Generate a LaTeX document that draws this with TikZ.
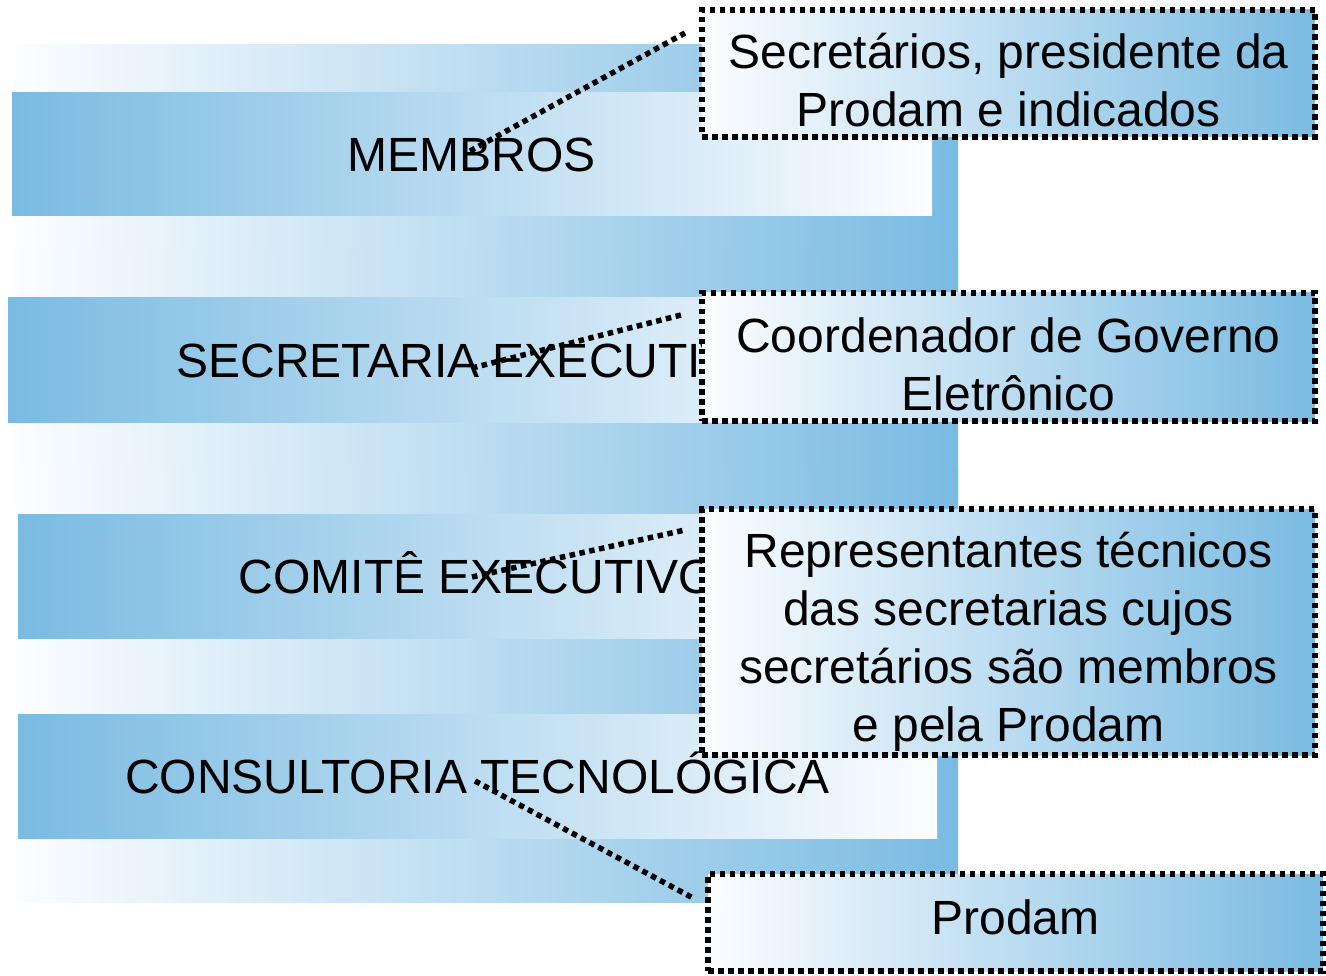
\documentclass[tikz,border=0pt]{standalone}
\usepackage{fontspec}
\setmainfont{Liberation Sans}
\definecolor{barblue}{RGB}{122,187,226}
\definecolor{barwhite}{RGB}{252,253,255}
\begin{document}
\begin{tikzpicture}[x=1pt,y=-1pt,
  box/.style={draw=none, inner sep=0pt, outer sep=0pt, anchor=north west},
  backbar/.style={box, left color=barwhite, right color=barblue},
  frontbar/.style={box, left color=barblue, right color=barwhite,
    font=\fontsize{48}{57}\selectfont, text height=34.4pt, text depth=0pt},
  dotline/.style={draw=black, line width=5.5pt, dash pattern=on 5.5pt off 4.5pt},
  callout/.style={box, left color=barwhite, right color=barblue, dotline},
  calltext/.style={inner sep=0pt, align=center, font=\fontsize{48}{58}\selectfont},
  conn/.style={dotline},
]
\fill[white] (0,0) rectangle (1326,976);
\useasboundingbox (0,0) rectangle (1326,976);

% back bars
\node[backbar, minimum width=943pt, minimum height=253pt] (b1) at (15,45) {};
\node[backbar, minimum width=946pt, minimum height=253pt] (b2) at (12,250) {};
\node[backbar, minimum width=943pt, minimum height=248pt] (b3) at (15,466) {};
\node[backbar, minimum width=943pt, minimum height=236pt] (b4) at (15,666) {};

% front bars
\node[frontbar, minimum width=920pt, minimum height=123pt] (f1) at (12,93) {MEMBROS};
\node[frontbar, minimum width=922pt, minimum height=124pt] (f2) at (8,298) {SECRETARIA EXECUTIVA};
\node[frontbar, minimum width=919pt, minimum height=124pt] (f3) at (18,514) {COMITÊ EXECUTIVO};
\node[frontbar, minimum width=919pt, minimum height=124pt] (f4) at (18,714) {CONSULTORIA TECNOLÓGICA};

% connector end points
\coordinate (p1) at (470,151);
\coordinate (q1) at (685,33);
\coordinate (p2) at (472,368);
\coordinate (q2) at (685,314);
\coordinate (p3) at (472,577);
\coordinate (q3) at (685,530);
\coordinate (p4) at (475,781);
\coordinate (q4) at (693,898);

\draw[conn] (p1) -- (q1);
\draw[conn] (p2) -- (q2);
\draw[conn] (p3) -- (q3);
\draw[conn] (p4) -- (q4);

% callouts
\node[callout, minimum width=613pt, minimum height=127pt] (k1) at (702,10) {};
\node[callout, minimum width=613pt, minimum height=128pt] (k2) at (702,293) {};
\node[callout, minimum width=613pt, minimum height=246pt] (k3) at (702,509) {};
\node[callout, minimum width=615pt, minimum height=97pt] (k4) at (708,874) {};

\node[calltext] (k1t) at ([yshift=-7pt]k1.center) {Secretários, presidente da\\Prodam e indicados};
\node[calltext] (k2t) at ([yshift=-7pt]k2.center) {Coordenador de Governo\\Eletrônico};
\node[calltext] (k3t) at ([yshift=-10pt]k3.center) {Representantes técnicos\\das secretarias cujos\\secretários são membros\\e pela Prodam};
\node[calltext] (k4t) at ([yshift=5pt]k4.center) {Prodam};
\end{tikzpicture}
\end{document}
